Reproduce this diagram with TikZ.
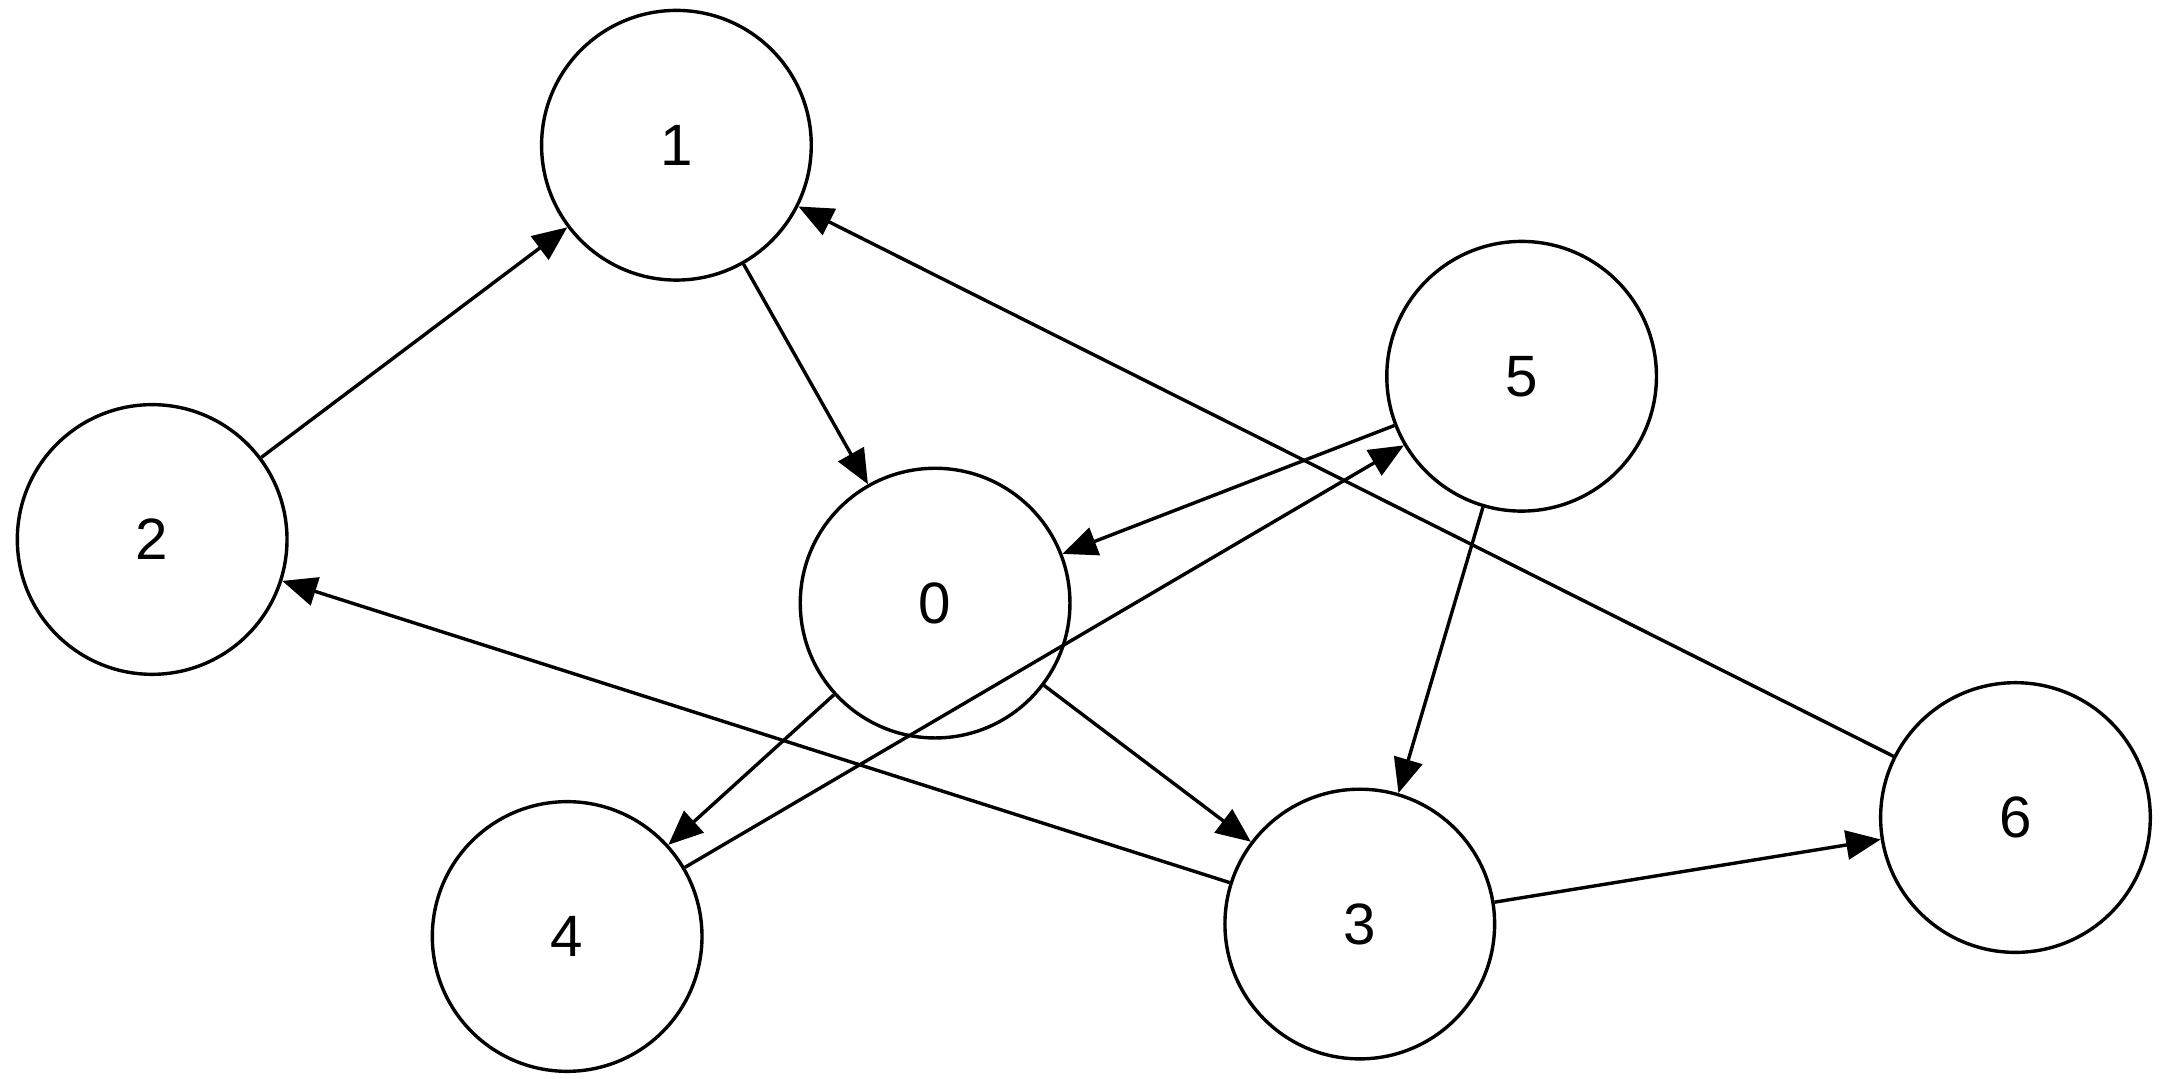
\documentclass[tikz,border=0pt]{standalone}
\usepackage{fontspec}
\setmainfont{Liberation Sans}
\usetikzlibrary{arrows.meta}
\begin{document}
\begin{tikzpicture}[x=0.02cm,y=-0.02cm,
  v/.style={circle,draw,line width=1.4pt,minimum size=3.9cm,inner sep=0pt,font=\fontsize{24}{28}\selectfont},
  e/.style={line width=1.4pt,-{Triangle[length=0.5cm,width=0.42cm]}}]
\useasboundingbox (0,0) rectangle (1568,780);
\node[v] (n1) at (489,105) {1};
\node[v] (n2) at (110,390) {2};
\node[v] (n0) at (676,436) {0};
\node[v] (n5) at (1100,272) {5};
\node[v] (n4) at (410,677) {4};
\node[v] (n3) at (983,668) {3};
\node[v] (n6) at (1457,591) {6};
\draw[e] (n2) -- (n1);
\draw[e] (n1) -- (n0);
\draw[e] (n5) -- (n0);
\draw[e] (n0) -- (n4);
\draw[e] (n0) -- (n3);
\draw[e] (n4) -- (n5);
\draw[e] (n5) -- (n3);
\draw[e] (n3) -- (n2);
\draw[e] (n3) -- (n6);
\draw[e] (n6) -- (n1);
\end{tikzpicture}
\end{document}
